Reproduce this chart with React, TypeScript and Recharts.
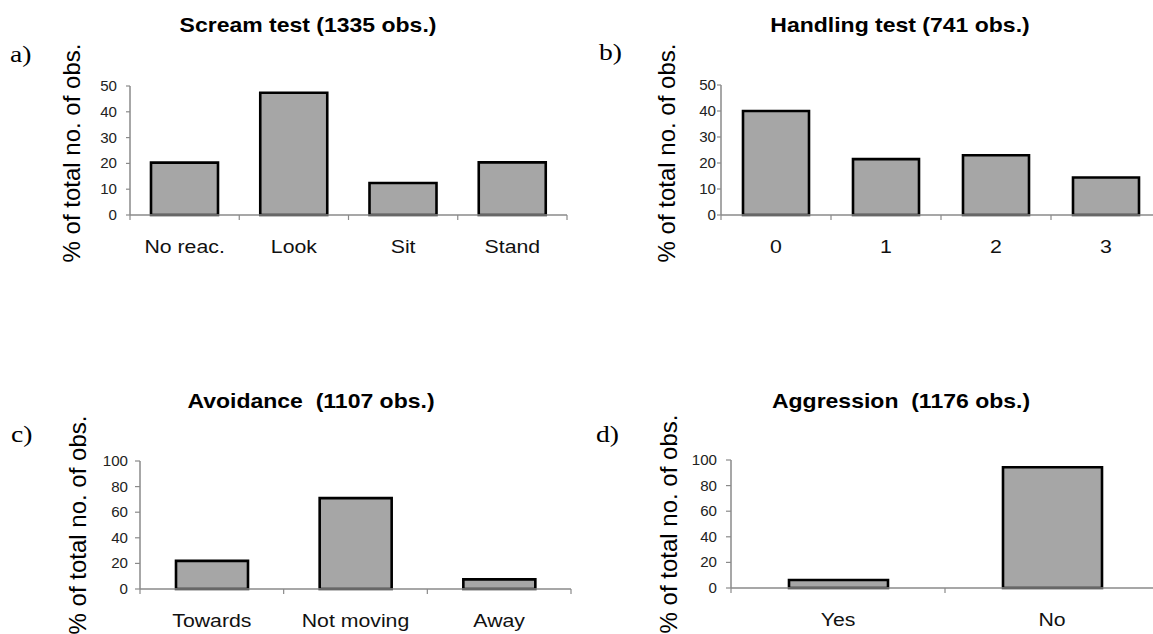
import React from 'react';
import { BarChart, Bar, XAxis, YAxis } from 'recharts';

const screamCats = ['No reac.', 'Look', 'Sit', 'Stand'];
const screamVals = [20.3, 47.4, 12.4, 20.4];
const screamTicks = [0, 10, 20, 30, 40, 50];

const handlingCats = ['0', '1', '2', '3'];
const handlingVals = [40.0, 21.5, 23.0, 14.4];
const handlingTicks = [0, 10, 20, 30, 40, 50];

const avoidCats = ['Towards', 'Not moving', 'Away'];
const avoidVals = [22, 71, 7.5];
const avoidTicks = [0, 20, 40, 60, 80, 100];

const aggrCats = ['Yes', 'No'];
const aggrVals = [6.2, 94.3];
const aggrTicks = [0, 20, 40, 60, 80, 100];

const SANS = '"Liberation Sans", Arial, sans-serif';
const SERIF = '"Liberation Serif", "Times New Roman", serif';
const AXIS = '#8a8a8a';
const FILL = '#a6a6a6';
const YAXIS_W = 40;
const XAXIS_H = 40;

type PanelProps = {
  cats: string[];
  vals: number[];
  ticks: number[];
  left: number;
  top: number;
  width: number;
  height: number;
  margin: { top: number; right: number; bottom: number; left: number };
  barSize: number;
  yTickSize: number;
  yTickMargin: number;
};

const Panel = (p: PanelProps) => {
  const data = p.cats.map((c, i) => ({ name: c, value: p.vals[i] }));
  const plotW = p.width - p.margin.left - YAXIS_W - p.margin.right;
  const band = plotW / p.cats.length;
  const axisY = p.height - p.margin.bottom - XAXIS_H;
  const n = p.cats.length;
  const XTick = (tp: any) => {
    const { x, payload, index } = tp;
    return (
      <g>
        <line x1={x - band / 2} x2={x - band / 2} y1={axisY} y2={axisY + 5} stroke={AXIS} strokeWidth={1.2} />
        {index === n - 1 && (
          <line x1={x + band / 2} x2={x + band / 2} y1={axisY} y2={axisY + 5} stroke={AXIS} strokeWidth={1.2} />
        )}
        <text
          transform={`translate(${x},${axisY + 38}) scale(1.15,1)`}
          textAnchor="middle"
          fontSize={18.5}
          fontFamily={SANS}
          fill="#111"
        >
          {payload.value}
        </text>
      </g>
    );
  };
  const YTick = (tp: any) => {
    const { x, y, payload } = tp;
    return (
      <text
        transform={`translate(${x},${y}) scale(1.08,1)`}
        textAnchor="end"
        dy="0.36em"
        fontSize={14}
        fontFamily={SANS}
        fill="#222"
      >
        {payload.value}
      </text>
    );
  };
  return (
    <div style={{ position: 'absolute', left: p.left, top: p.top, width: p.width, height: p.height }}>
      <BarChart width={p.width} height={p.height} data={data} margin={p.margin}>
        <XAxis
          dataKey="name"
          height={XAXIS_H}
          axisLine={{ stroke: AXIS, strokeWidth: 1.5 }}
          tickLine={false}
          tick={(tp: any) => <XTick {...tp} />}
          interval={0}
        />
        <YAxis
          width={YAXIS_W}
          domain={[p.ticks[0], p.ticks[p.ticks.length - 1]]}
          ticks={p.ticks}
          interval={0}
          axisLine={{ stroke: AXIS, strokeWidth: 1.5 }}
          tickLine={{ stroke: AXIS, strokeWidth: 1.2 }}
          tickSize={p.yTickSize}
          tickMargin={p.yTickMargin}
          tick={(tp: any) => <YTick {...tp} />}
        />
        <Bar dataKey="value" fill={FILL} stroke="#000" strokeWidth={2.6} barSize={p.barSize} isAnimationActive={false} />
      </BarChart>
    </div>
  );
};

const Title = ({ x, y, text }: { x: number; y: number; text: string }) => (
  <text
    transform={`translate(${x},${y}) scale(1.15,1)`}
    textAnchor="middle"
    fontSize={20}
    fontWeight="bold"
    fontFamily={SANS}
    fill="#000"
    style={{ whiteSpace: 'pre' }}
    xmlSpace="preserve"
  >
    {text}
  </text>
);

const Letter = ({ x, y, text }: { x: number; y: number; text: string }) => (
  <text transform={`translate(${x},${y}) scale(1.15,1)`} fontSize={24} fontFamily={SERIF} fill="#000">
    {text}
  </text>
);

const YLabel = ({ x, y }: { x: number; y: number }) => (
  <text transform={`translate(${x},${y}) rotate(-90)`} textAnchor="middle" fontSize={24} fontFamily={SANS} fill="#000">
    % of total no. of obs.
  </text>
);

export default function App() {
  return (
    <div style={{ position: 'absolute', left: 0, top: 0, width: 1153, height: 634, overflow: 'hidden', background: '#fff' }}>
      <Panel
        cats={screamCats}
        vals={screamVals}
        ticks={screamTicks}
        left={0}
        top={0}
        width={580}
        height={300}
        margin={{ top: 86, right: 13, left: 90, bottom: 45 }}
        barSize={67}
        yTickSize={4}
        yTickMargin={9}
      />
      <Panel
        cats={handlingCats}
        vals={handlingVals}
        ticks={handlingTicks}
        left={580}
        top={0}
        width={573}
        height={300}
        margin={{ top: 85, right: -8, left: 101, bottom: 45 }}
        barSize={66}
        yTickSize={4}
        yTickMargin={1}
      />
      <Panel
        cats={avoidCats}
        vals={avoidVals}
        ticks={avoidTicks}
        left={0}
        top={360}
        width={580}
        height={274}
        margin={{ top: 101, right: 9, left: 100, bottom: 5 }}
        barSize={72}
        yTickSize={5}
        yTickMargin={7}
      />
      <Panel
        cats={aggrCats}
        vals={aggrVals}
        ticks={aggrTicks}
        left={580}
        top={360}
        width={573}
        height={274}
        margin={{ top: 100, right: -6, left: 111, bottom: 6 }}
        barSize={99}
        yTickSize={5}
        yTickMargin={9}
      />
      <svg width={1153} height={634} style={{ position: 'absolute', left: 0, top: 0, pointerEvents: 'none' }}>
        <Title x={308} y={32} text="Scream test (1335 obs.)" />
        <Title x={900} y={32} text="Handling test (741 obs.)" />
        <Title x={311} y={408} text="Avoidance  (1107 obs.)" />
        <Title x={901} y={408} text="Aggression  (1176 obs.)" />
        <Letter x={10} y={62} text="a)" />
        <Letter x={599} y={60} text="b)" />
        <Letter x={11} y={442} text="c)" />
        <Letter x={596} y={442} text="d)" />
        <YLabel x={80} y={153} />
        <YLabel x={675} y={153} />
        <YLabel x={86} y={525} />
        <YLabel x={677} y={524} />
      </svg>
    </div>
  );
}
